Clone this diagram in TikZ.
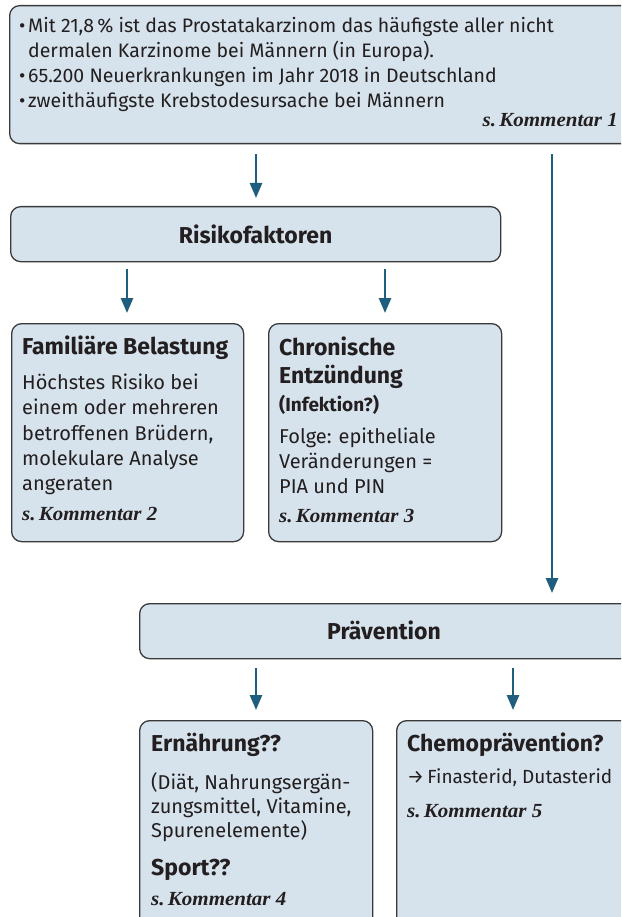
\documentclass[tikz,border=0pt]{standalone}
\usepackage{fontspec}
\setmainfont{Fira Sans}
\newfontfamily\komfont{Liberation Serif}[FakeStretch=1.05]
\usetikzlibrary{arrows.meta}
\definecolor{boxfill}{HTML}{D6E2EC}
\definecolor{boxline}{HTML}{3A3A3A}
\definecolor{arrowcol}{HTML}{1F5E7E}
\definecolor{ink}{HTML}{231F20}
\begin{document}
\begin{tikzpicture}[x=1pt,y=-1pt,
  box/.style={draw=boxline,fill=boxfill,line width=1.3pt,rounded corners=10pt,
    anchor=north west,inner sep=0pt,text=ink},
  flow/.style={draw=arrowcol,line width=2.6pt,-{Triangle[width=12pt,length=15pt]}},
  lead/.style={anchor=base west,inner sep=0pt,text=ink,font=\fontsize{19.5}{25}\selectfont},
  body/.style={anchor=base west,inner sep=0pt,text=ink,font=\fontsize{20}{25}\selectfont},
  head/.style={anchor=base west,inner sep=0pt,text=ink,font=\fontsize{23}{28}\selectfont\bfseries},
  subhead/.style={anchor=base west,inner sep=0pt,text=ink,font=\fontsize{19}{22}\selectfont\bfseries},
  komm/.style={anchor=base west,inner sep=0pt,text=ink,font=\fontsize{20}{22}\selectfont\komfont\bfseries\itshape},
  bar/.style={box,font=\fontsize{23}{28}\selectfont\bfseries}]
\useasboundingbox (0,0) rectangle (621,917);
\clip (0,0) rectangle (621,917);

% boxes
\node[box,minimum width=640pt,minimum height=138pt] (top) at (9,5) {};
\node[bar,minimum width=490pt,minimum height=55pt] (risk) at (10,206) {Risikofaktoren};
\node[box,minimum width=232pt,minimum height=218pt] (fam) at (11,323) {};
\node[box,minimum width=233pt,minimum height=218pt] (chron) at (268,323) {};
\node[bar,minimum width=500pt,minimum height=55pt] (prev) at (139,603) {};
\node[anchor=base,inner sep=0pt,text=ink,font=\fontsize{23}{28}\selectfont\bfseries] (prevlabel) at (384,639) {Prävention};
\node[box,minimum width=233pt,minimum height=230pt] (ern) at (139,720) {};
\node[box,minimum width=260pt,minimum height=230pt] (chemo) at (396,720) {};

% key figures
\node[lead] (t1) at (19,33) {\makebox[9pt][l]{•}Mit 21,8\,\% ist das Prostatakarzinom das häufigste aller nicht};
\node[lead] (t2) at (19,58) {\hspace*{9pt}dermalen Karzinome bei Männern (in Europa).};
\node[lead] (t3) at (19,83) {\makebox[9pt][l]{•}65.200 Neuerkrankungen im Jahr 2018 in Deutschland};
\node[lead] (t4) at (19,108) {\makebox[9pt][l]{•}zweithäufigste Krebstodesursache bei Männern};
\node[komm,anchor=base east] (k1) at (618,127) {s.\,Kommentar 1};

% family history
\node[head] (f0) at (22,354) {Familiäre Belastung};
\node[body] (f1) at (22,389) {Höchstes Risiko bei};
\node[body] (f2) at (22,414) {einem oder mehreren};
\node[body] (f3) at (22,440) {betroffenen Brüdern,};
\node[body] (f4) at (22,465) {molekulare Analyse};
\node[body] (f5) at (22,490) {angeraten};
\node[komm] (k2) at (22,520) {s.\,Kommentar 2};

% chronic inflammation
\node[head] (c0) at (279,355) {Chronische};
\node[head] (c1) at (279,383) {Entzündung};
\node[subhead] (c2) at (279,411) {(Infektion?)};
\node[body] (c3) at (279,443) {Folge: epitheliale};
\node[body] (c4) at (279,468) {Veränderungen =};
\node[body] (c5) at (279,493) {PIA und PIN};
\node[komm] (k3) at (279,522) {s.\,Kommentar 3};

% nutrition and sport
\node[head] (e0) at (151,751) {Ernährung??};
\node[body] (e1) at (151,789) {(Diät, Nahrungsergän-};
\node[body] (e2) at (151,813) {zungsmittel, Vitamine,};
\node[body] (e3) at (151,837) {Spurenelemente)};
\node[head] (e4) at (151,875) {Sport??};
\node[komm] (k4) at (151,905) {s.\,Kommentar 4};

% chemoprevention
\node[head] (m0) at (407,751) {Chemoprävention?};
\node[body,font=\fontsize{19}{25}\selectfont] (m1) at (407,783) {→\,Finasterid, Dutasterid};
\node[komm] (k5) at (407,817) {s.\,Kommentar 5};

% connectors
\draw[flow,shorten <=10pt,shorten >=8pt] (top.south -| 256,0) -- (risk.north -| 256,0);
\draw[flow,shorten <=10pt,shorten >=10pt] (top.south -| 552,0) -- (prev.north -| 552,0);
\draw[flow,shorten <=7pt,shorten >=10pt] (risk.south -| 127,0) -- (fam.north -| 127,0);
\draw[flow,shorten <=7pt,shorten >=10pt] (risk.south -| 385,0) -- (chron.north -| 385,0);
\draw[flow,shorten <=9pt,shorten >=10pt] (prev.south -| 256,0) -- (ern.north -| 256,0);
\draw[flow,shorten <=9pt,shorten >=10pt] (prev.south -| 513,0) -- (chemo.north -| 513,0);
\end{tikzpicture}
\end{document}
